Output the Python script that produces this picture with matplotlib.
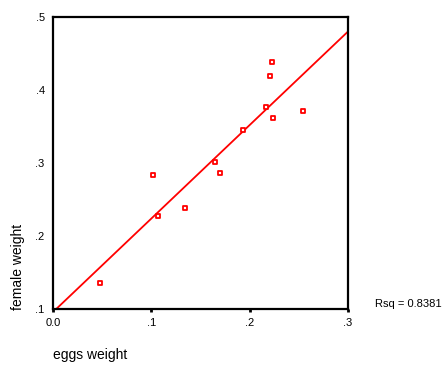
import numpy as np
import matplotlib
matplotlib.use("Agg")
import matplotlib.pyplot as plt

plt.rcParams['font.family'] = ['Liberation Sans', 'DejaVu Sans']

# eggs weight vs female weight
eggs_weight = [0.2224, 0.2204, 0.2163, 0.2546, 0.2240, 0.1935,
               0.1648, 0.1701, 0.1017, 0.1342, 0.1071, 0.0481]
female_weight = [0.4380, 0.4196, 0.3763, 0.3712, 0.3612, 0.3452,
                 0.3018, 0.2867, 0.2840, 0.2379, 0.2278, 0.1352]
x_ticks = [0.0, 0.1, 0.2, 0.3]
x_tick_labels = ['0.0', '.1', '.2', '.3']
y_ticks = [0.1, 0.2, 0.3, 0.4, 0.5]
y_tick_labels = ['.1', '.2', '.3', '.4', '.5']
rsq_label = 'Rsq = 0.8381'

x = np.array(eggs_weight)
y = np.array(female_weight)
slope, intercept = np.polyfit(x, y, 1)

fig = plt.figure(figsize=(4.44, 3.65), dpi=100)
ax = fig.add_axes([53 / 444, 56 / 365, 295 / 444, 292 / 365])

line_x = np.array([0.0, 0.3])
ax.plot(line_x, intercept + slope * line_x, color='#ff0000', lw=1.3,
        clip_on=True, zorder=2)
ax.scatter(x, y, marker='s', s=10, facecolors='white', edgecolors='#ff0000',
           linewidths=1.3, zorder=3)

ax.set_xlim(0.0, 0.3)
ax.set_ylim(0.1, 0.5)
ax.set_xticks(x_ticks)
ax.set_xticklabels(x_tick_labels)
ax.set_yticks(y_ticks)
ax.set_yticklabels(y_tick_labels)
ax.tick_params(axis='x', direction='out', length=2.5, width=2, pad=4,
               labelsize=8)
ax.tick_params(axis='y', direction='out', length=0, pad=6, labelsize=8)
for spine in ax.spines.values():
    spine.set_linewidth(1.6)

ax.set_xlabel('eggs weight', fontsize=10)
ax.xaxis.set_label_coords(0.0, -0.157)
ax.xaxis.label.set_horizontalalignment('left')
ax.xaxis.label.set_verticalalignment('center')
ax.set_ylabel('female weight', fontsize=10)
ax.yaxis.set_label_coords(-0.119, -0.005)
ax.yaxis.label.set_verticalalignment('center')
ax.yaxis.label.set_horizontalalignment('left')

fig.text(375 / 444, 1 - 304 / 365, rsq_label, fontsize=8, va='center',
         ha='left')

fig.savefig('out.png', dpi=100)
